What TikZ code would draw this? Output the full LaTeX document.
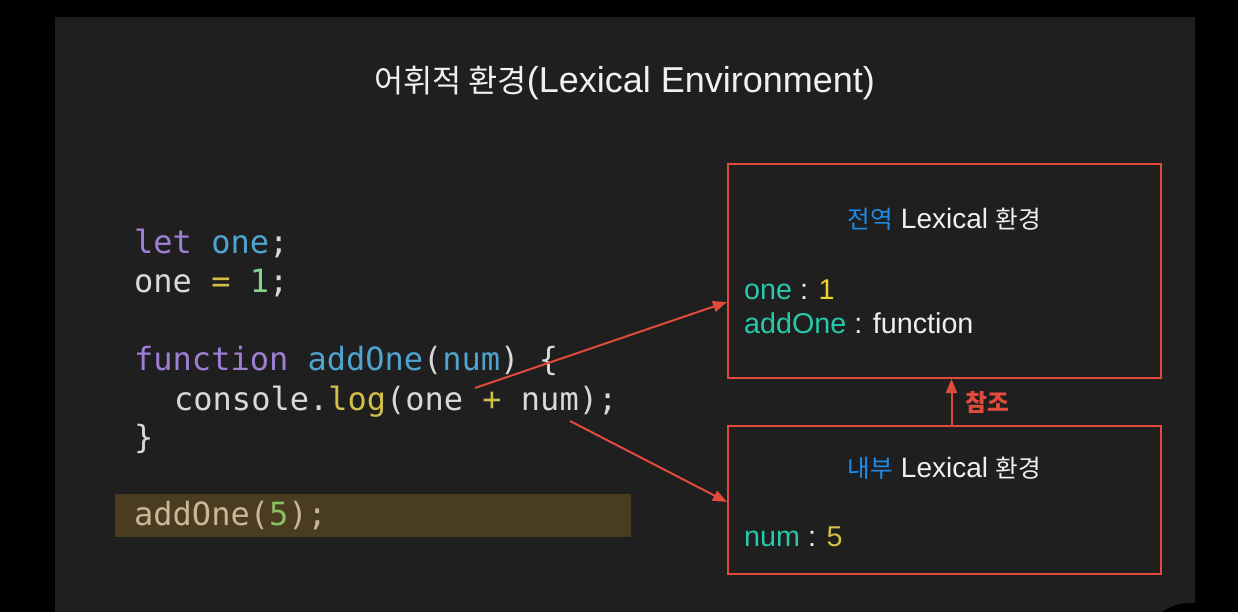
\documentclass[tikz,border=0pt]{standalone}
\usepackage{fontspec}
\usepackage{xcolor}
\usetikzlibrary{arrows.meta,positioning,calc}
\setmainfont{Liberation Sans}
\setmonofont{DejaVu Sans Mono}
\newfontfamily\kr[Scale=0.88]{Noto Sans CJK KR}
\definecolor{slidebg}{HTML}{1F1F1F}
\definecolor{textwhite}{HTML}{F0F0F0}
\definecolor{codewhite}{HTML}{D9D9D9}
\definecolor{kwpurple}{HTML}{9F7FD6}
\definecolor{idblue}{HTML}{4FA3CF}
\definecolor{numgreen}{HTML}{86D28A}
\definecolor{opyellow}{HTML}{D2BE4A}
\definecolor{hlband}{HTML}{4A3C20}
\definecolor{hltext}{HTML}{C8B896}
\definecolor{hlgreen}{HTML}{8CBE64}
\definecolor{refred}{HTML}{E14B3C}
\definecolor{krblue}{HTML}{1E8CE6}
\definecolor{keyteal}{HTML}{28C8AA}
\definecolor{valyellow}{HTML}{F0D228}
\newcommand{\kw}[1]{\textcolor{kwpurple}{#1}}
\newcommand{\ident}[1]{\textcolor{idblue}{#1}}
\newcommand{\op}[1]{\textcolor{opyellow}{#1}}
\newcommand{\key}[1]{\textcolor{keyteal}{#1}}
\newcommand{\val}[1]{\textcolor{valyellow}{#1}}

\begin{document}
\begin{tikzpicture}[x=1pt,y=-1pt,
  >={Triangle[length=14pt,width=11pt]},
  code/.style={anchor=base west,inner sep=0pt,text=codewhite,
    font=\ttfamily\fontsize{32}{39}\selectfont},
  envbox/.style={draw=refred,line width=2pt,minimum width=433pt,inner sep=0pt},
  envtitle/.style={anchor=base,inner sep=0pt,text=textwhite,font=\fontsize{28}{34}\selectfont},
  entry/.style={anchor=base west,inner sep=0pt,text=textwhite,font=\fontsize{28.7}{34}\selectfont},
  link/.style={->,draw=refred,line width=2pt}]
  \useasboundingbox (0,0) rectangle (1238,612);
  \fill[black] (0,0) rectangle (1238,612);
  \fill[slidebg] (55,17) rectangle (1195,612);
  \fill[black] (1190,650) circle (47pt);

  \node[anchor=base,inner sep=0pt,text=textwhite,font=\fontsize{36}{42}\selectfont] (title)
    at (624.5,93) {{\kr 어휘적 환경}(Lexical Environment)};

  % code
  \node[code] (line1) at (134,253) {\kw{let} \ident{one};};
  \node[code] (line2) at (134,292) {one \op{=} \textcolor{numgreen}{1};};
  \node[code] (line3) at (134,370) {\kw{function} \ident{addOne}(\ident{num}) \{};
  \node[code] (line4) at (174,410) {console.\op{log}(one \op{+} num);};
  \node[code] (line5) at (134,448) {\}};
  \fill[hlband] (115,494) rectangle (631,537);
  \node[code,text=hltext] (call) at (134,525) {addOne(\textcolor{hlgreen}{5});};

  % environments
  \node[envbox,minimum height=214pt] (globalenv) at (944.5,271) {};
  \node[envbox,minimum height=148pt] (innerenv) at (944.5,500) {};
  \node[envtitle] (globaltitle) at (944.5,229)
    {\textcolor{krblue}{\kr 전역} Lexical {\kr 환경}};
  \node[entry] (oneentry) at (744,299) {\key{one} : \val{1}};
  \node[entry] (addoneentry) at (744,333) {\key{addOne} : function};
  \node[envtitle] (innertitle) at (944.5,477)
    {\textcolor{krblue}{\kr 내부} Lexical {\kr 환경}};
  \node[entry] (numentry) at (744,546) {\key{num} : \textcolor{opyellow}{5}};

  \coordinate (onesrc) at (475,388);
  \coordinate (numsrc) at (570,421);
  \draw[link] (onesrc) -- ([yshift=-31pt]globalenv.west);
  \draw[link] (numsrc) -- ([yshift=-2pt]innerenv.west);
  \draw[link] ([xshift=7pt]innerenv.north) -- node[right=13pt,inner sep=0pt,text=refred,
    font=\kr\bfseries\fontsize{27}{30}\selectfont] (reflabel) {참조} ([xshift=7pt]globalenv.south);
\end{tikzpicture}
\end{document}
